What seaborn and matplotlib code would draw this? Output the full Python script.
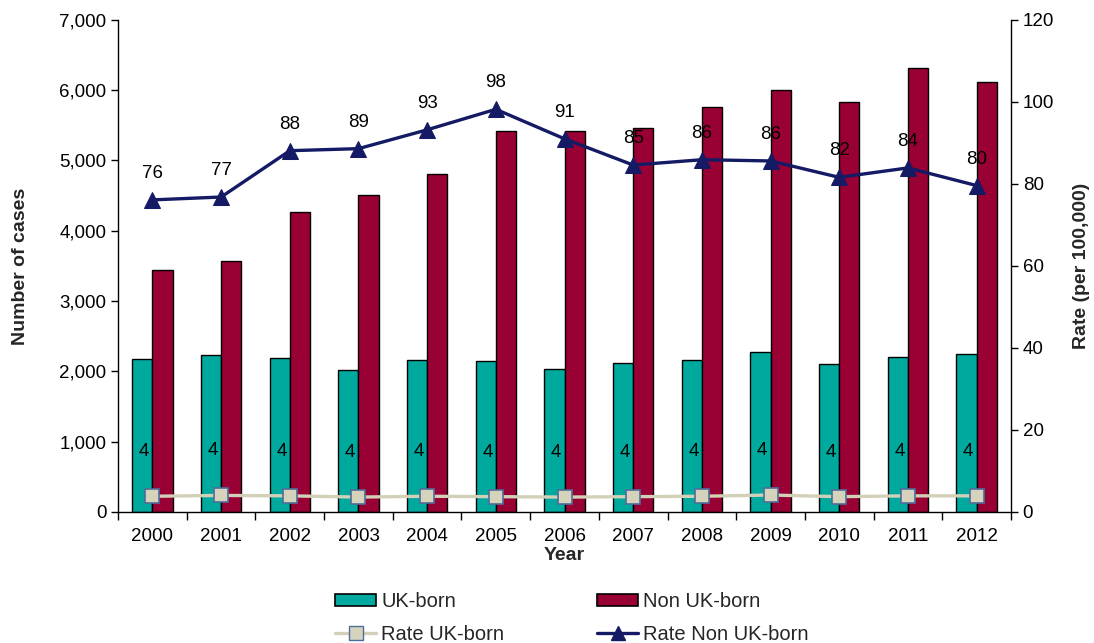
import numpy as np
import pandas as pd
import matplotlib
matplotlib.use("Agg")
import matplotlib.pyplot as plt
from matplotlib.patches import Patch
from matplotlib.lines import Line2D
from matplotlib.ticker import FuncFormatter, FixedLocator
import seaborn as sns

years = [2000, 2001, 2002, 2003, 2004, 2005, 2006, 2007, 2008, 2009, 2010, 2011, 2012]
uk_cases = [2170, 2228, 2186, 2015, 2166, 2143, 2038, 2119, 2166, 2271, 2100, 2209, 2252]
non_uk_cases = [3442, 3570, 4272, 4509, 4808, 5424, 5424, 5462, 5761, 5998, 5828, 6311, 6117]
rate_uk = [3.8, 4.0, 3.9, 3.6, 3.8, 3.7, 3.6, 3.7, 3.8, 4.1, 3.7, 3.9, 3.9]
rate_non_uk = [76.1, 76.8, 88.1, 88.6, 93.2, 98.2, 91.0, 84.6, 85.9, 85.6, 81.6, 83.9, 79.6]

C_UK = "#00A99D"
C_NON = "#990033"
C_RATE_UK = "#D3D0B8"
C_RATE_UK_EDGE = "#4F6D9A"
C_RATE_NON = "#141A64"

sns.set_theme(style="white")
plt.rcParams["font.family"] = ["Liberation Sans", "DejaVu Sans"]

TICK_FS = 13.5
LABEL_FS = 14

df = pd.DataFrame({
    "Year": [str(y) for y in years] * 2,
    "Cases": uk_cases + non_uk_cases,
    "Group": ["UK-born"] * len(years) + ["Non UK-born"] * len(years),
})

fig = plt.figure(figsize=(10.94, 6.43), dpi=100)
ax = fig.add_axes([0.108, 0.204, 0.816, 0.765])

sns.barplot(data=df, x="Year", y="Cases", hue="Group",
            palette={"UK-born": C_UK, "Non UK-born": C_NON},
            width=0.59, edgecolor="black", linewidth=1.0, ax=ax,
            legend=False, errorbar=None, saturation=1)

ax.set_ylim(0, 7000)
ax.set_xlim(-0.5, len(years) - 0.5)
ax.yaxis.set_major_locator(FixedLocator(np.arange(0, 7001, 1000)))
ax.yaxis.set_major_formatter(FuncFormatter(lambda v, p: f"{int(v):,}"))
ax.set_xticks(np.arange(len(years)))
ax.set_xticklabels([str(y) for y in years])
ax.set_xticks(np.arange(-0.5, len(years)), minor=True)
ax.tick_params(axis="x", which="major", length=0, labelsize=TICK_FS, pad=12, colors="black")
ax.tick_params(axis="x", which="minor", length=6, width=1, direction="out", color="black", bottom=True)
ax.tick_params(axis="y", length=5, width=1, direction="out", labelsize=TICK_FS, left=True, colors="black")
ax.set_xlabel("Year", fontsize=LABEL_FS, fontweight="bold", labelpad=1)
ax.set_ylabel("Number of cases", fontsize=LABEL_FS, fontweight="bold", labelpad=22)
for s in ["left", "bottom"]:
    ax.spines[s].set_color("black")
    ax.spines[s].set_linewidth(1)
ax.spines["top"].set_visible(False)
ax.spines["right"].set_visible(False)

ax2 = ax.twinx()
xpos = np.arange(len(years))
sns.lineplot(x=xpos, y=rate_uk, ax=ax2, color=C_RATE_UK, linewidth=2.4,
             marker="s", markersize=10, markerfacecolor="#D6D3BD",
             markeredgecolor=C_RATE_UK_EDGE, markeredgewidth=1.2)
sns.lineplot(x=xpos, y=rate_non_uk, ax=ax2, color=C_RATE_NON, linewidth=2.4,
             marker="^", markersize=11, markerfacecolor=C_RATE_NON,
             markeredgecolor=C_RATE_NON)
ax2.set_ylim(0, 120)
ax2.set_xlim(-0.5, len(years) - 0.5)
ax2.yaxis.set_major_locator(FixedLocator(np.arange(0, 121, 20)))
ax2.tick_params(axis="y", length=5, width=1, direction="out", labelsize=TICK_FS, right=True, colors="black")
ax2.set_ylabel("Rate (per 100,000)", fontsize=LABEL_FS, fontweight="bold", labelpad=14)
ax2.spines["top"].set_visible(False)
ax2.spines["left"].set_visible(False)
ax2.spines["bottom"].set_visible(False)
ax2.spines["right"].set_color("black")
ax2.spines["right"].set_linewidth(1)

for x, v in zip(xpos, rate_non_uk):
    ax2.annotate(f"{v:.0f}", (x, v), xytext=(0, 19), textcoords="offset points",
                 ha="center", va="center", fontsize=TICK_FS, color="black")
for x, v in zip(xpos, rate_uk):
    ax2.annotate(f"{v:.0f}", (x, v), xytext=(-6, 32), textcoords="offset points",
                 ha="center", va="center", fontsize=TICK_FS, color="black")

handles = [
    Patch(facecolor=C_UK, edgecolor="black", linewidth=1.2),
    Line2D([0], [0], color=C_RATE_UK, lw=2.4, marker="s", markersize=10,
           markerfacecolor="#D6D3BD", markeredgecolor=C_RATE_UK_EDGE),
    Patch(facecolor=C_NON, edgecolor="black", linewidth=1.2),
    Line2D([0], [0], color=C_RATE_NON, lw=2.4, marker="^", markersize=10,
           markerfacecolor=C_RATE_NON, markeredgecolor=C_RATE_NON),
]
labels = ["UK-born", "Rate UK-born", "Non UK-born", "Rate Non UK-born"]
fig.legend(handles, labels, ncol=2, loc="upper left", bbox_to_anchor=(0.297, 0.095),
           frameon=False, fontsize=14.5, handlelength=2.05, handleheight=0.55,
           handletextpad=0.25, columnspacing=4.6, labelspacing=0.7, borderpad=0)

fig.savefig("out.png", dpi=100)
